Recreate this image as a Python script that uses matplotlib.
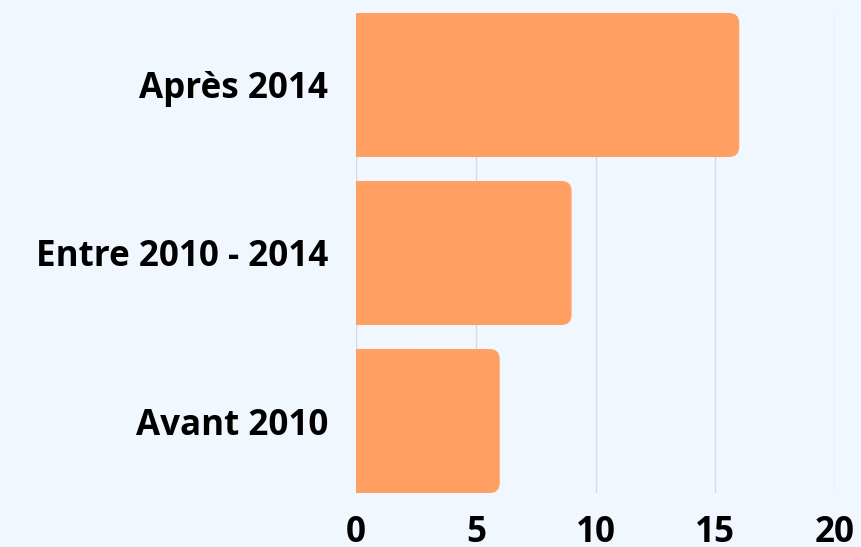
import matplotlib

matplotlib.use("Agg")
import matplotlib.pyplot as plt
from matplotlib.patches import FancyBboxPatch, Rectangle

categories = ["Avant 2010", "Entre 2010 - 2014", "Après 2014"]
values = [6, 9, 16]
x_ticks = [0, 5, 10, 15, 20]

bg = "#F0F7FE"
bar_color = "#FF9F62"
grid_color = "#D5DAE0"

plt.rcParams["font.family"] = ["Open Sans", "DejaVu Sans"]

fig = plt.figure(figsize=(8.61, 5.47), dpi=100, facecolor=bg)
ax = fig.add_axes([356 / 861, 1 - 493 / 547, (835 - 356) / 861, (493 - 13) / 547])
ax.set_facecolor(bg)

bar_h = 0.857
ax.set_xlim(0, 20)
ax.set_ylim(-bar_h / 2, len(categories) - 1 + bar_h / 2)

# px -> data units, for round corners with equal radius in both directions
px_x = 20 / (835 - 356)
px_y = (len(categories) - 1 + bar_h) / (493 - 13)
radius_px = 10

for i, v in enumerate(values):
    patch = FancyBboxPatch(
        (0, i - bar_h / 2), v, bar_h,
        boxstyle=f"round,pad=0,rounding_size={radius_px * px_x}",
        mutation_aspect=px_y / px_x,
        facecolor=bar_color, edgecolor="none", zorder=3,
    )
    ax.add_patch(patch)
    # square off the left end
    ax.add_patch(Rectangle((0, i - bar_h / 2), v / 2, bar_h,
                           facecolor=bar_color, edgecolor="none", zorder=3))

ax.set_yticks(range(len(categories)))
ax.set_yticklabels(categories)
ax.set_xticks(x_ticks)
ax.set_xticklabels([str(t) for t in x_ticks])

for t in x_ticks:
    ax.axvline(t, color=grid_color, linewidth=1, zorder=1)

for s in ax.spines.values():
    s.set_visible(False)

ax.tick_params(axis="both", length=0, labelsize=25.2, labelcolor="#000000")
ax.tick_params(axis="y", pad=20)
ax.tick_params(axis="x", pad=16)
for lbl in ax.get_xticklabels() + ax.get_yticklabels():
    lbl.set_fontweight("bold")

fig.savefig("out.png", dpi=100, facecolor=bg)
